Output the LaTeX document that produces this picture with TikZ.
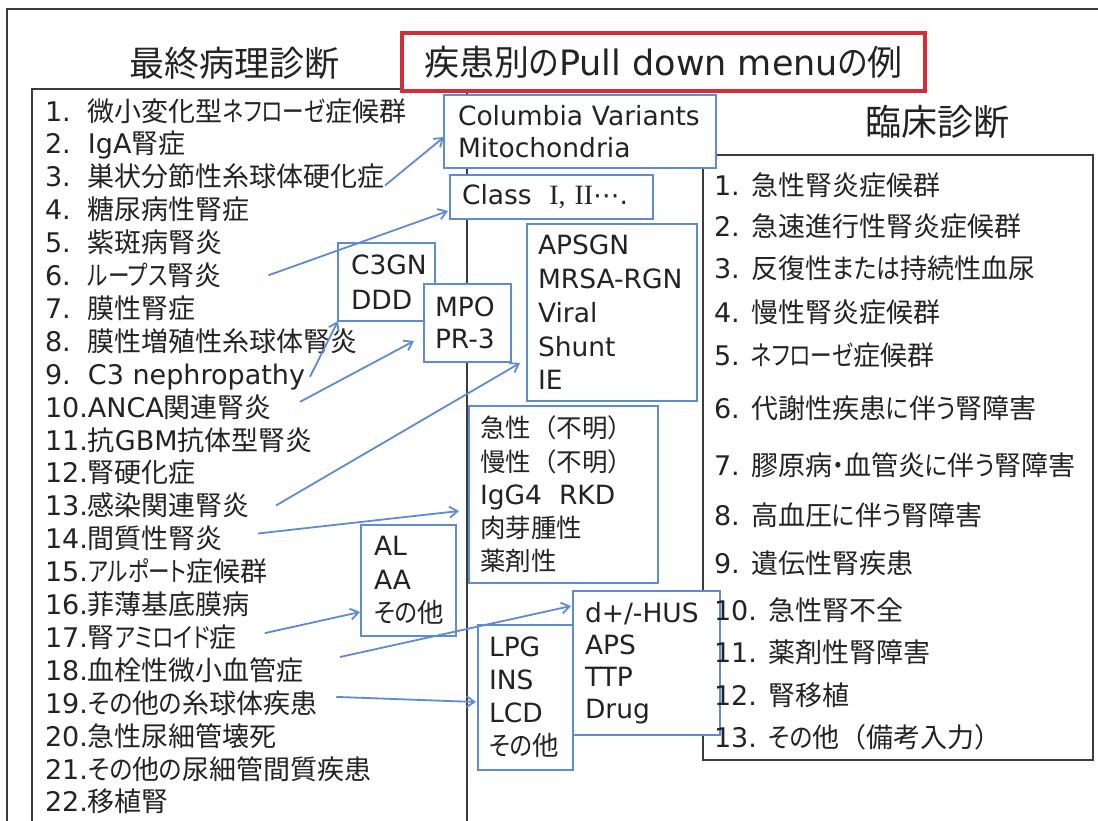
\documentclass[tikz,border=0pt]{standalone}
\usepackage{graphicx}
\usepackage{fontspec}
\setmainfont{Noto Sans CJK JP}[RawFeature=+palt]
\newfontfamily\cjkfw{Noto Sans CJK JP}
\newfontfamily\lat{DejaVu Sans}
\newfontfamily\ser{Liberation Serif}
\usetikzlibrary{arrows.meta,calc}
\definecolor{bl}{RGB}{95,140,208}
\definecolor{rd}{RGB}{212,45,55}
\definecolor{ink}{RGB}{35,35,35}
\definecolor{frm}{RGB}{60,60,60}
\newcommand\numb[1]{\makebox[43pt][l]{\lat #1}}
\newcommand\kn[1]{\scalebox{0.8}[1]{#1}}
\newcommand\kh[1]{\scalebox{0.88}[1]{#1}}
\tikzset{
  litem/.style={anchor=base west, inner sep=0pt, outer sep=0pt, text=ink, font=\fontsize{27}{33}\selectfont},
  ritem/.style={anchor=base west, inner sep=0pt, outer sep=0pt, text=ink, font=\fontsize{27}{33}\selectfont},
  bbox/.style={draw=bl, fill=white, line width=2pt, anchor=north west, outer sep=0pt, inner ysep=0pt, align=left, text=ink},
  arr/.style={draw=bl, line width=1.8pt, -{Straight Barb[length=8pt,width=11pt]}},
  panel/.style={draw=frm, line width=1.8pt},
}
\begin{document}
\begin{tikzpicture}[x=1pt,y=-1pt]
\useasboundingbox (0,0) rectangle (1098,820);
\fill[white] (0,0) rectangle (1098,820);
% frames
\draw[frm, line width=2.6pt] (7,9) rectangle (1115,840);
\draw[panel] (32,89) rectangle (467,840);
\draw[panel] (703,155) rectangle (1093,760);
% titles
\node[text=ink, font=\fontsize{35}{40}\selectfont] (ttl1) at (234,63) {最終病理診断};
\node[text=ink, font=\fontsize{36}{40}\selectfont] (ttl2) at (937,122) {臨床診断};
\node[draw=rd, line width=3.5pt, fill=white, minimum width=523pt, minimum height=58pt, inner sep=0pt, outer sep=0pt, text=ink, font=\fontsize{35}{40}\selectfont] (menu) at (663.5,62) {疾患別\kh{の}{\lat Pull down menu}\kh{の}例};
% blue boxes
\node[bbox, minimum width=272pt, minimum height=73pt, inner xsep=14pt, text width=244pt, font=\fontsize{26.5}{32}\selectfont\lat] (colbox) at (444,95) {Columbia Variants\\Mitochondria};
\node[bbox, minimum width=203pt, minimum height=44pt, inner xsep=12pt, text width=179pt, font=\fontsize{26.5}{32}\selectfont\lat] (classbox) at (450,175) {\mbox{Class\ \ {\ser\fontsize{28}{32}\selectfont I, II}⋯.}};
\node[bbox, minimum width=97pt, minimum height=78pt, inner xsep=13pt, text width=71pt, font=\fontsize{26.5}{35}\selectfont\lat] (c3box) at (338,243) {C3GN\\DDD};
\node[bbox, minimum width=87pt, minimum height=78pt, inner xsep=11pt, text width=65pt, font=\fontsize{26.5}{32}\selectfont\lat] (mpobox) at (424,284) {MPO\\PR-3};
\node[bbox, minimum width=170pt, minimum height=177pt, inner xsep=11pt, text width=148pt, font=\fontsize{26.5}{33.7}\selectfont\lat] (apsbox) at (527,224) {APSGN\\MRSA-RGN\\Viral\\Shunt\\IE};
\node[bbox, minimum width=189pt, minimum height=177pt, inner xsep=11pt, text width=167pt, font=\fontsize{25.5}{33.2}\selectfont\cjkfw] (kyubox) at (469,406) {急性（不明）\\慢性（不明）\\{\lat\fontsize{26.5}{33.2}\selectfont IgG4\ \ RKD}\\肉芽腫性\\薬剤性};
\node[bbox, minimum width=95pt, minimum height=111pt, inner xsep=13pt, text width=69pt, font=\fontsize{26.5}{33.5}\selectfont] (albox) at (361,525) {{\lat AL}\\{\lat AA}\\\kh{その}他};
\node[bbox, minimum width=147pt, minimum height=144pt, inner xsep=12pt, text width=123pt, font=\fontsize{26.5}{32}\selectfont\lat] (husbox) at (573,591) {d+/-HUS\\APS\\TTP\\Drug};
\node[bbox, minimum width=95pt, minimum height=145pt, inner xsep=11pt, text width=73pt, font=\fontsize{26.5}{33}\selectfont] (lpgbox) at (478,625) {{\lat LPG}\\{\lat INS}\\{\lat LCD}\\\kh{その}他};
% left list
\node[litem] (L1) at (45,121.0) {\numb{1.}微小変化型\kn{ネフローゼ}症候群};
\node[litem] (L2) at (45,153.9) {\numb{2.}{\lat IgA}腎症};
\node[litem] (L3) at (45,186.8) {\numb{3.}巣状分節性糸球体硬化症};
\node[litem] (L4) at (45,219.7) {\numb{4.}糖尿病性腎症};
\node[litem] (L5) at (45,252.6) {\numb{5.}紫斑病腎炎};
\node[litem] (L6) at (45,285.5) {\numb{6.}\kn{ループス}腎炎};
\node[litem] (L7) at (45,318.4) {\numb{7.}膜性腎症};
\node[litem] (L8) at (45,351.3) {\numb{8.}膜性増殖性糸球体腎炎};
\node[litem] (L9) at (45,384.2) {\numb{9.}{\lat C3 nephropathy}};
\node[litem] (L10) at (45,417.1) {\numb{10.}{\lat ANCA}関連腎炎};
\node[litem] (L11) at (45,450.0) {\numb{11.}抗{\lat GBM}抗体型腎炎};
\node[litem] (L12) at (45,482.9) {\numb{12.}腎硬化症};
\node[litem] (L13) at (45,515.8) {\numb{13.}感染関連腎炎};
\node[litem] (L14) at (45,548.7) {\numb{14.}間質性腎炎};
\node[litem] (L15) at (45,581.6) {\numb{15.}\kn{アルポート}症候群};
\node[litem] (L16) at (45,614.5) {\numb{16.}菲薄基底膜病};
\node[litem] (L17) at (45,647.4) {\numb{17.}腎\kn{アミロイド}症};
\node[litem] (L18) at (45,680.3) {\numb{18.}血栓性微小血管症};
\node[litem] (L19) at (45,713.2) {\numb{19.}\kh{その}他\kh{の}糸球体疾患};
\node[litem] (L20) at (45,746.1) {\numb{20.}急性尿細管壊死};
\node[litem] (L21) at (45,779.0) {\numb{21.}\kh{その}他\kh{の}尿細管間質疾患};
\node[litem] (L22) at (45,811.9) {\numb{22.}移植腎};
% right list
\node[ritem] (R1) at (714,195) {{\lat 1. }急性腎炎症候群};
\node[ritem] (R2) at (714,236) {{\lat 2. }急速進行性腎炎症候群};
\node[ritem] (R3) at (714,278) {{\lat 3. }反復性\kh{または}持続性血尿};
\node[ritem] (R4) at (714,322) {{\lat 4. }慢性腎炎症候群};
\node[ritem] (R5) at (714,365) {{\lat 5. }\kn{ネフローゼ}症候群};
\node[ritem] (R6) at (714,418) {{\lat 6. }代謝性疾患\kh{に}伴\kh{う}腎障害};
\node[ritem] (R7) at (714,475) {{\lat 7. }膠原病\kh{・}血管炎\kh{に}伴\kh{う}腎障害};
\node[ritem] (R8) at (714,525) {{\lat 8. }高血圧\kh{に}伴\kh{う}腎障害};
\node[ritem] (R9) at (714,573) {{\lat 9. }遺伝性腎疾患};
\node[ritem] (R10) at (714,620) {{\lat 10. }急性腎不全};
\node[ritem] (R11) at (714,662) {{\lat 11. }薬剤性腎障害};
\node[ritem] (R12) at (714,705) {{\lat 12. }腎移植};
\node[ritem] (R13) at (714,747) {{\lat 13. }\kh{その}他{\cjkfw（備考入力）}};
% arrows
\draw[arr] ([yshift=-9pt]L3.east) -- ($(colbox.north west)+(0,42)$);
\draw[arr] ([xshift=47pt]L6.east) -- ($(classbox.north west)+(-2,36)$);
\draw[arr] ([xshift=5pt]L9.east) -- (c3box.south west);
\draw[arr] ([xshift=28pt,yshift=5pt]L10.east) -- ($(mpobox.north west)+(-10,57)$);
\draw[arr] ([xshift=26pt]L13.east) -- ($(apsbox.north west)+(-7,139)$);
\draw[arr] ([xshift=35pt,yshift=5pt]L14.east) -- ($(kyubox.north west)+(-10,105)$);
\draw[arr] ([xshift=28pt,yshift=4pt]L17.east) -- ($(albox.north west)+(-1,87)$);
\draw[arr] ([xshift=36pt,yshift=13pt]L18.east) -- ($(husbox.north west)+(-2,15)$);
\draw[arr] ([xshift=19pt,yshift=6pt]L19.east) -- ($(lpgbox.north west)+(-2,77)$);
\end{tikzpicture}
\end{document}
